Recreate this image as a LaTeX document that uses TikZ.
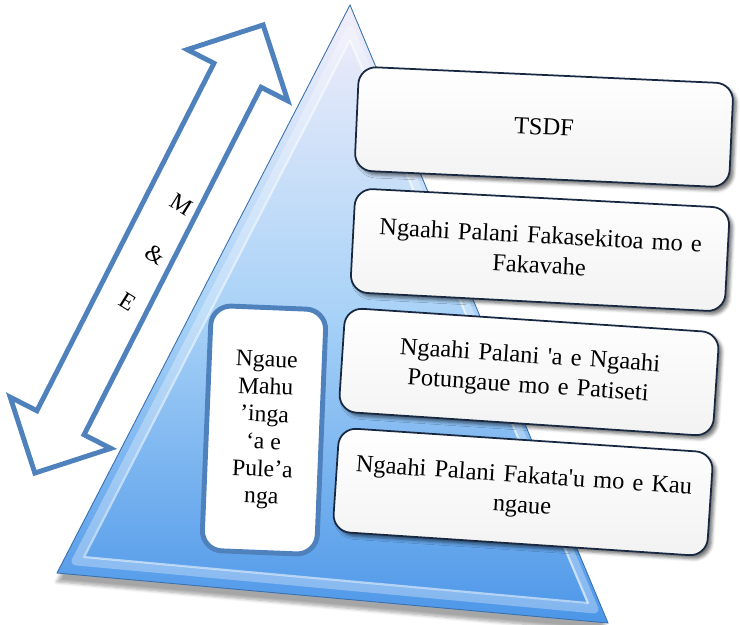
\documentclass[tikz,border=0pt]{standalone}
\usepackage{fontspec}
\setmainfont{Liberation Serif}
\newfontfamily\planfont{Liberation Serif}
\usetikzlibrary{shapes.arrows,shadows.blur}
\definecolor{meblue}{RGB}{79,129,189}
\definecolor{pyrtop}{RGB}{242,238,250}
\definecolor{pyrmid}{RGB}{168,210,247}
\definecolor{pyrbot}{RGB}{76,150,232}
\definecolor{boxline}{RGB}{25,40,65}
\begin{document}
\begin{tikzpicture}[x=0.02cm,y=-0.02cm,
    planbox/.style={draw=boxline,line width=1pt,rounded corners=0.35cm,
      top color=white,bottom color=black!5,
      minimum width=7.5cm,minimum height=2.08cm,text width=7cm,align=center,
      font=\planfont\fontsize{13.9}{17}\selectfont,
      blur shadow={shadow xshift=2pt,shadow yshift=-2pt,shadow opacity=55,shadow blur steps=4}},
    leadbox/.style={draw=meblue,line width=2.8pt,fill=white,rounded corners=0.4cm,
      minimum width=2.3cm,minimum height=4.9cm,align=center,
      font=\fontsize{13.5}{15.6}\selectfont},
    mearrow/.style={double arrow,draw=meblue,line width=2.8pt,fill=white,
      minimum height=10.06cm,inner xsep=0pt,inner ysep=0.48cm,
      double arrow head extend=0.6cm},
    melabel/.style={rotate=-32,font=\fontsize{13.5}{16}\selectfont}]
  \useasboundingbox (0,0) rectangle (740,625);
  \path[draw=pyrbot!75!black,line width=0.5pt,top color=pyrtop,bottom color=pyrbot,middle color=pyrmid,
    blur shadow={shadow xshift=0pt,shadow yshift=-5pt,shadow opacity=35,shadow blur steps=6}]
    (350,5) coordinate (apex) -- (608,623) coordinate (baseR) -- (57,573) coordinate (baseL) -- cycle;
  \draw[white,opacity=0.3,line width=5pt,line join=round] (350,30) -- (594,609) -- (76,561) -- cycle;
  \draw[white,opacity=0.55,line width=1.2pt,line join=round] (350,40) -- (588,603) -- (84,557) -- cycle;
  \node[mearrow,rotate=63] (me) at (149,249) {};
  \node[melabel] (m) at (182,205) {M};
  \node[melabel] (and) at (155,255) {\&};
  \node[melabel] (e) at (128,302) {E};
  \node[leadbox,rotate=-2.3] (pule) at (264,430) {Ngaue\\Mahu\\’inga\\‘a e\\Pule’a\\nga};
  \node[planbox,rotate=-2.6] (tsdf) at (544,127) {TSDF};
  \node[planbox,rotate=-3] (sector) at (540,250) {Ngaahi Palani Fakasekitoa mo e\\Fakavahe};
  \node[planbox,rotate=-3.8] (ministry) at (529,372) {Ngaahi Palani 'a e Ngaahi\\Potungaue mo e Patiseti};
  \node[planbox,rotate=-3.8] (annual) at (523,492) {Ngaahi Palani Fakata'u mo e Kau\\ngaue};
\end{tikzpicture}
\end{document}
